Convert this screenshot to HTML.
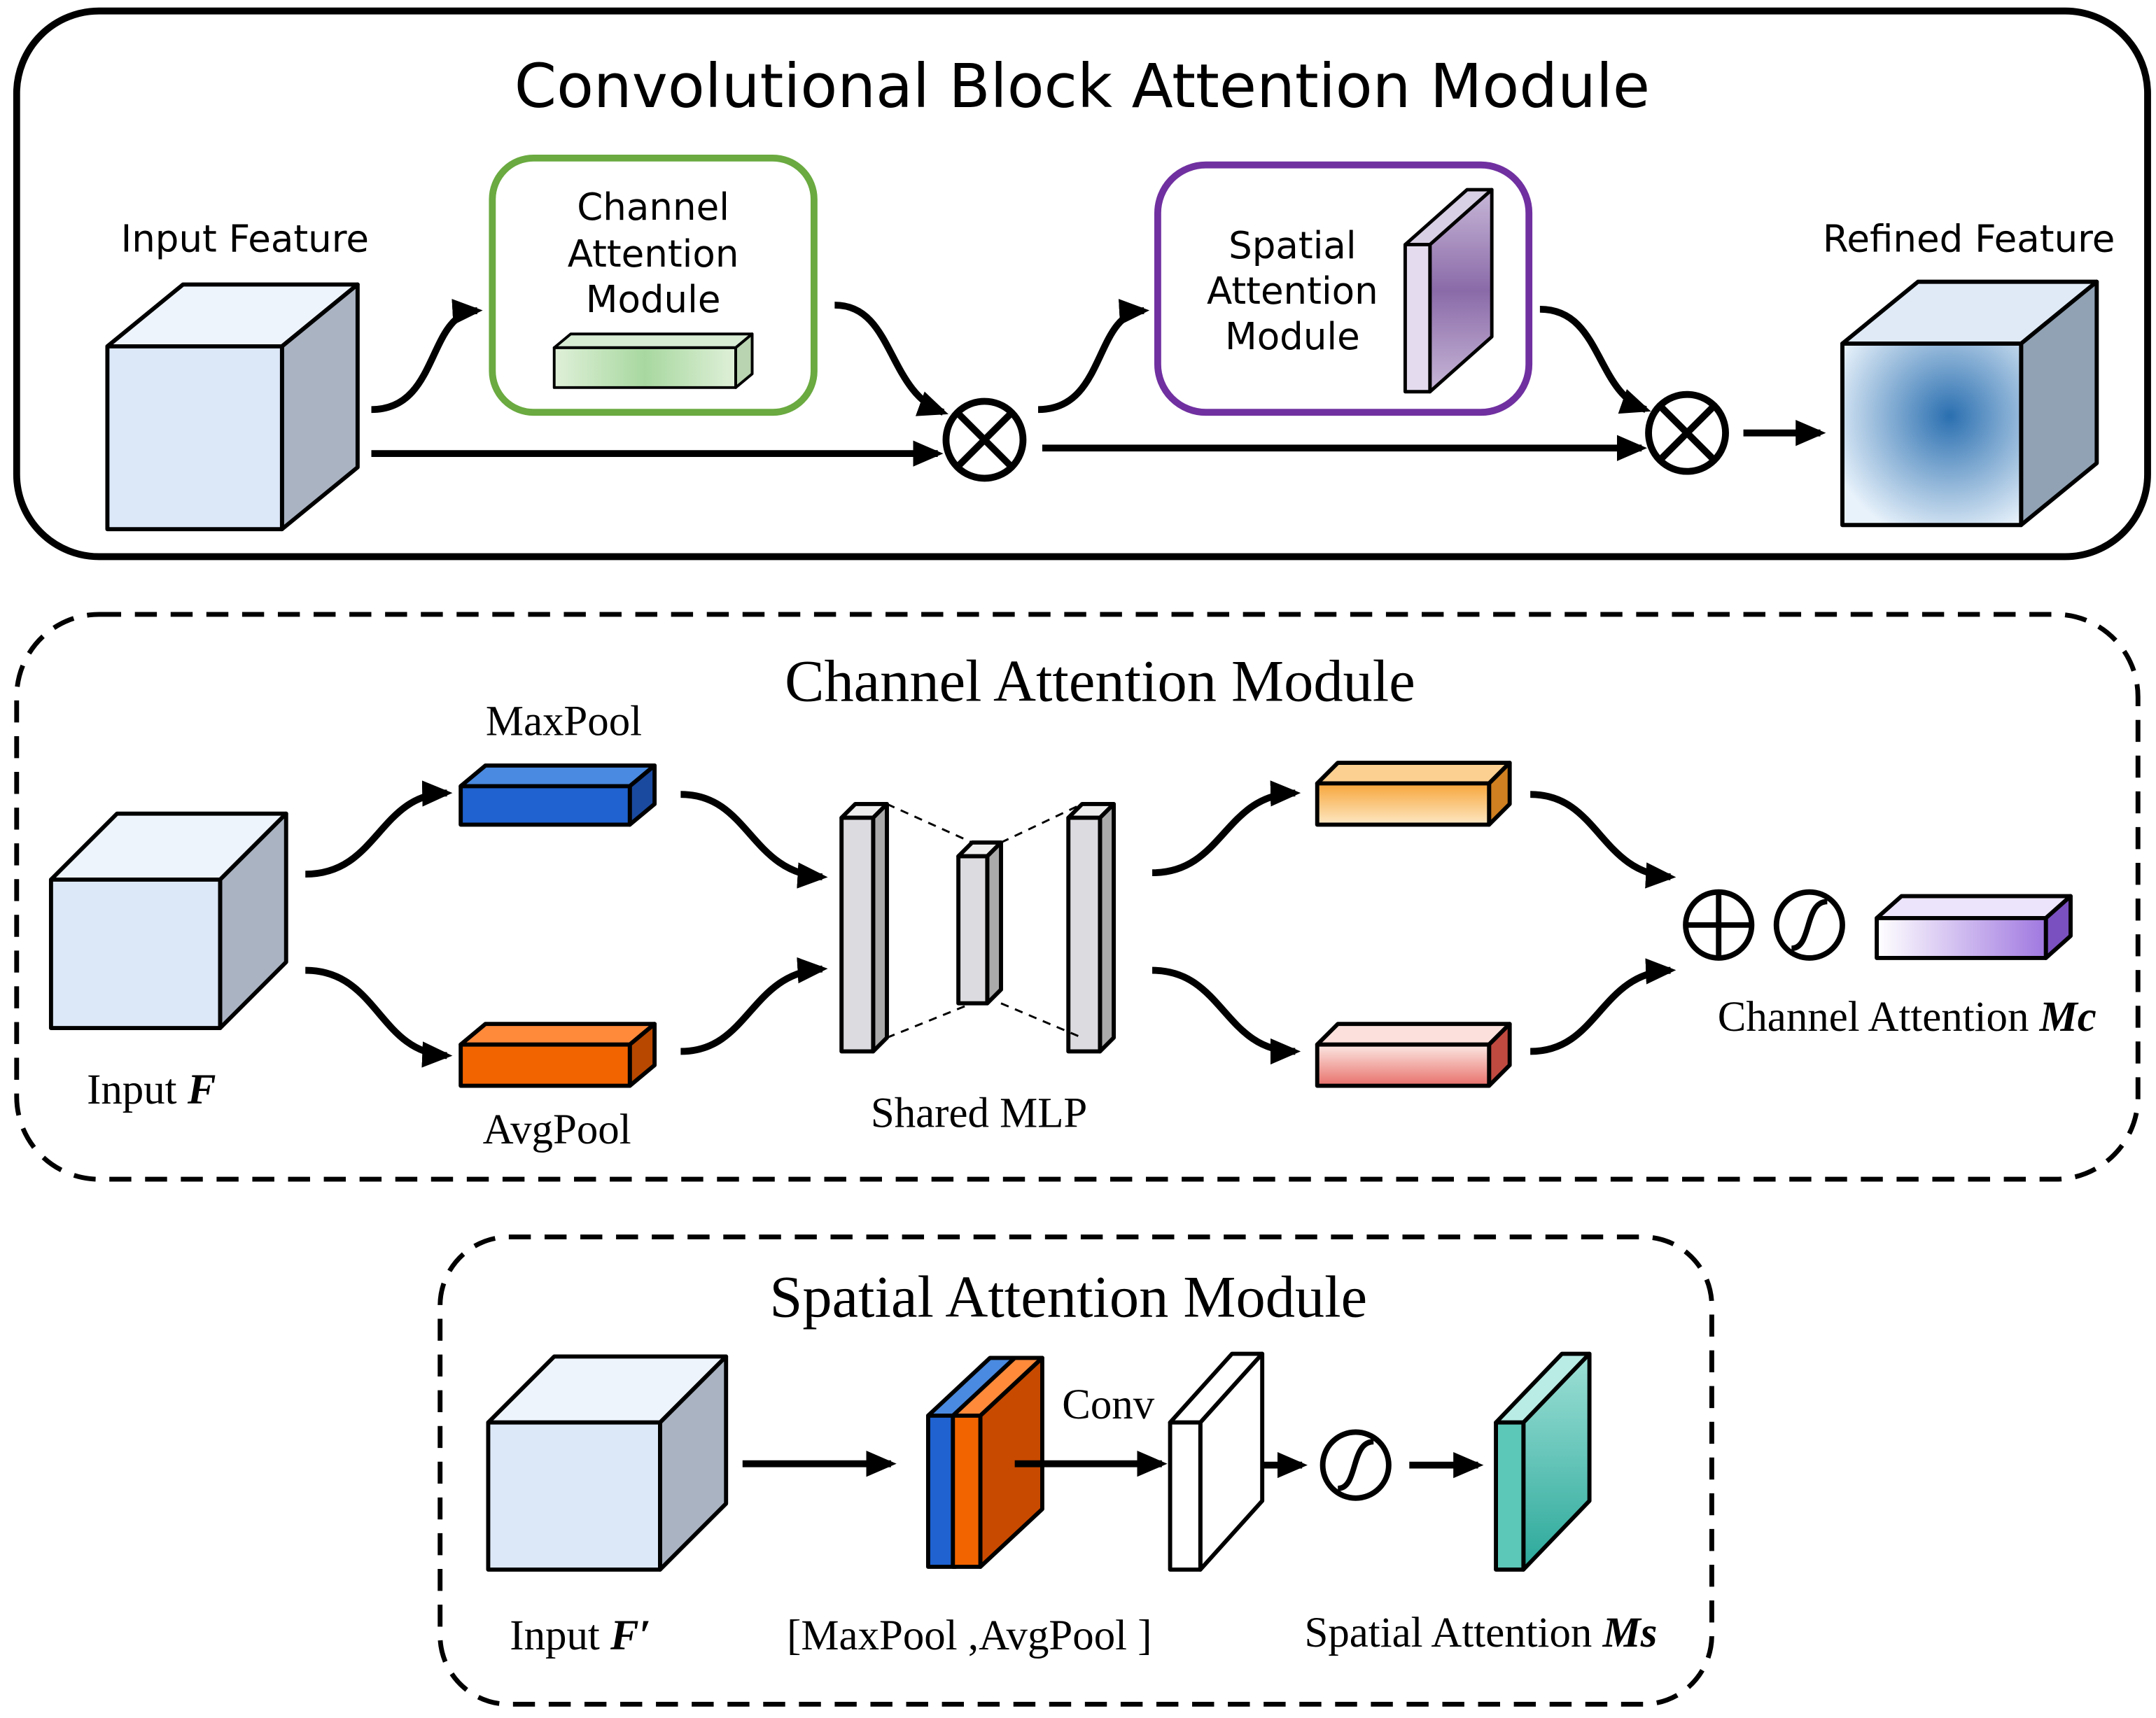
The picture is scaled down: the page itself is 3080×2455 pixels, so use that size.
<!DOCTYPE html>
<html><head><style>html,body{margin:0;padding:0;background:#fff}svg{display:block}</style></head>
<body>
<svg width="3080" height="2455" viewBox="0 0 1568 1250" xmlns="http://www.w3.org/2000/svg">
<defs>
<marker id="ah" markerWidth="4.4" markerHeight="4" refX="3.6" refY="2" orient="auto" markerUnits="strokeWidth"><path d="M0,0.1 L4.4,2 L0,3.9 Z" fill="#000"/></marker>
<radialGradient id="rb" cx="0.6" cy="0.4" r="0.7"><stop offset="0" stop-color="#2a6fb0"/><stop offset="1" stop-color="#e8f2fb"/></radialGradient>
<linearGradient id="gg" x1="0" x2="1"><stop offset="0" stop-color="#dff0d8"/><stop offset="0.5" stop-color="#a8d8a0"/><stop offset="1" stop-color="#dff0d8"/></linearGradient>
<linearGradient id="pp" x1="0" y1="0" x2="0" y2="1"><stop offset="0" stop-color="#c8b8d8"/><stop offset="0.5" stop-color="#8a6aa8"/><stop offset="1" stop-color="#c8b8d8"/></linearGradient>
<linearGradient id="yo" x1="0" y1="0" x2="0" y2="1"><stop offset="0" stop-color="#f7a53a"/><stop offset="1" stop-color="#fde8c4"/></linearGradient>
<linearGradient id="rp" x1="0" y1="0" x2="0" y2="1"><stop offset="0" stop-color="#fce8e4"/><stop offset="1" stop-color="#e8706a"/></linearGradient>
<linearGradient id="pu" x1="0" x2="1"><stop offset="0" stop-color="#ffffff"/><stop offset="1" stop-color="#a078e0"/></linearGradient>
<linearGradient id="tl" x1="0" y1="0" x2="0" y2="1"><stop offset="0" stop-color="#9ee0d6"/><stop offset="1" stop-color="#2aa89a"/></linearGradient>
</defs>
<g fill="none" stroke="#000">
<rect x="12" y="8" width="1550" height="397" rx="60" stroke-width="5"/>
<rect x="12" y="447" width="1543" height="411" rx="60" stroke-width="3.5" stroke-dasharray="16,10"/>
<rect x="320" y="900" width="925" height="340" rx="50" stroke-width="3.5" stroke-dasharray="16,10"/>
</g>
<g font-family="DejaVu Sans, Liberation Sans, sans-serif" text-anchor="middle" fill="#000">
<text x="787" y="78" font-size="44">Convolutional Block Attention Module</text>
<text x="178" y="183" font-size="27">Input Feature</text>
<text x="1432" y="183" font-size="27">Refined Feature</text>
<text x="475" y="160" font-size="27">Channel</text><text x="475" y="194" font-size="27">Attention</text><text x="475" y="227" font-size="27">Module</text>
<text x="940" y="188" font-size="27">Spatial</text><text x="940" y="221" font-size="27">Attention</text><text x="940" y="254" font-size="27">Module</text>
</g>
<g stroke="#000" stroke-width="3" stroke-linejoin="round">
<polygon points="78,252 133,207 260,207 205,252" fill="#eef4fc"/><polygon points="205,252 260,207 260,340 205,385" fill="#a9b3c2"/><rect x="78" y="252" width="127" height="133" fill="#dce8f8"/>
<polygon points="1340,250 1395,205 1525,205 1470,250" fill="#dfeaf6"/><polygon points="1470,250 1525,205 1525,337 1470,382" fill="#90a2b4"/><rect x="1340" y="250" width="130" height="132" fill="url(#rb)"/>
<rect x="358" y="115" width="234" height="185" rx="30" fill="none" stroke="#6aaa40" stroke-width="5"/>
<polygon points="403,253 415,243 547,243 535,253" fill="#d8ecd4" stroke-width="2"/><polygon points="535,253 547,243 547,272 535,282" fill="#b8d4b0" stroke-width="2"/><rect x="403" y="253" width="132" height="29" fill="url(#gg)" stroke-width="2"/>
<rect x="842" y="120" width="270" height="180" rx="35" fill="none" stroke="#7030a0" stroke-width="5"/>
<polygon points="1022,178 1067,138 1085,138 1040,178" fill="#d8d0e4" stroke-width="2.5"/><polygon points="1040,178 1085,138 1085,245 1040,285" fill="url(#pp)" stroke-width="2.5"/><rect x="1022" y="178" width="18" height="107" fill="#e4dcee" stroke-width="2.5"/>
</g>
<g fill="none" stroke="#000" stroke-width="5" marker-end="url(#ah)">
<path d="M270,298 C320,298 310,228 347,226"/>
<path d="M270,330 L682,330"/>
<path d="M607,222 C650,222 645,285 686,300"/>
<path d="M755,298 C805,298 795,228 832,226"/>
<path d="M758,326 L1194,326"/>
<path d="M1120,225 C1165,225 1160,285 1197,298"/>
<path d="M1268,315 L1324,315"/>
</g>
<g fill="#fff" stroke="#000" stroke-width="5">
<circle cx="716" cy="320" r="28"/><path d="M697,301 L735,339 M735,301 L697,339"/>
<circle cx="1227" cy="315" r="28"/><path d="M1208,296 L1246,334 M1246,296 L1208,334"/>
</g>
<g font-family="Liberation Serif, serif" text-anchor="middle" fill="#000">
<text x="800" y="510" font-size="43">Channel Attention Module</text>
<text x="410" y="535" font-size="31">MaxPool</text>
<text x="405" y="832" font-size="31">AvgPool</text>
<text x="712" y="820" font-size="31">Shared MLP</text>
<text x="110" y="803" font-size="31">Input <tspan font-weight="bold" font-style="italic">F</tspan></text>
<text x="1387" y="750" font-size="31">Channel Attention <tspan font-weight="bold" font-style="italic">Mc</tspan></text>
<text x="777" y="958" font-size="43">Spatial Attention Module</text>
<text x="806" y="1032" font-size="31">Conv</text>
<text x="422" y="1200" font-size="31">Input <tspan font-weight="bold" font-style="italic">F′</tspan></text>
<text x="705" y="1200" font-size="31">[MaxPool  ,AvgPool ]</text>
<text x="1077" y="1198" font-size="31">Spatial Attention <tspan font-weight="bold" font-style="italic">Ms</tspan></text>
</g>
<g stroke="#000" stroke-width="3" stroke-linejoin="round">
<polygon points="37,640 85,592 208,592 160,640" fill="#eef4fc"/><polygon points="160,640 208,592 208,700 160,748" fill="#a9b3c2"/><rect x="37" y="640" width="123" height="108" fill="#dce8f8"/>
<polygon points="335,572 353,557 476,557 458,572" fill="#4a8ae0"/><polygon points="458,572 476,557 476,585 458,600" fill="#1a4aa0"/><rect x="335" y="572" width="123" height="28" fill="#1f62d0"/>
<polygon points="335,760 353,745 476,745 458,760" fill="#ff8a3a"/><polygon points="458,760 476,745 476,775 458,790" fill="#b84800"/><rect x="335" y="760" width="123" height="30" fill="#f26400"/>
<polygon points="612,595 622,585 645,585 635,595" fill="#eee"/><polygon points="635,595 645,585 645,755 635,765" fill="#aaa"/><rect x="612" y="595" width="23" height="170" fill="#dcdce0"/>
<polygon points="697,623 707,613 728,613 718,623" fill="#eee"/><polygon points="718,623 728,613 728,720 718,730" fill="#aaa"/><rect x="697" y="623" width="21" height="107" fill="#dcdce0"/>
<polygon points="777,595 787,585 810,585 800,595" fill="#eee"/><polygon points="800,595 810,585 810,755 800,765" fill="#aaa"/><rect x="777" y="595" width="23" height="170" fill="#dcdce0"/>
<polygon points="958,570 973,555 1098,555 1083,570" fill="#fbd090"/><polygon points="1083,570 1098,555 1098,585 1083,600" fill="#d08020"/><rect x="958" y="570" width="125" height="30" fill="url(#yo)"/>
<polygon points="958,760 973,745 1098,745 1083,760" fill="#fbe0dc"/><polygon points="1083,760 1098,745 1098,775 1083,790" fill="#c04a40"/><rect x="958" y="760" width="125" height="30" fill="url(#rp)"/>
<polygon points="1365,668 1383,652 1506,652 1488,668" fill="#ece4fa"/><polygon points="1488,668 1506,652 1506,681 1488,697" fill="#7a50c0"/><rect x="1365" y="668" width="123" height="29" fill="url(#pu)"/>
</g>
<g stroke="#000" stroke-width="1.5" stroke-dasharray="6,5">
<path d="M645,585 L707,613 M645,755 L707,730 M728,613 L787,585 M728,730 L787,755"/>
</g>
<g fill="none" stroke="#000" stroke-width="5" marker-end="url(#ah)">
<path d="M222,636 C275,636 275,578 325,577"/>
<path d="M222,706 C275,706 275,766 325,768"/>
<path d="M495,578 C545,578 545,635 598,638"/>
<path d="M495,765 C545,765 545,708 598,705"/>
<path d="M838,635 C890,635 890,578 942,577"/>
<path d="M838,706 C890,706 890,765 942,765"/>
<path d="M1113,578 C1163,578 1163,635 1215,638"/>
<path d="M1113,765 C1163,765 1163,708 1215,706"/>
<path d="M540,1065 L648,1065"/>
<path d="M738,1065 L845,1065"/>
<path d="M897,1066 L947,1066"/>
<path d="M1025,1066 L1075,1066"/>
</g>
<g fill="none" stroke="#000" stroke-width="4">
<circle cx="1250" cy="673" r="24"/><path d="M1226,673 H1274 M1250,649 V697"/>
<circle cx="1316" cy="673" r="24"/><path d="M1303,690 C1318,690 1312,656 1329,656"/>
<circle cx="986" cy="1066" r="24"/><path d="M973,1083 C988,1083 982,1049 999,1049"/>
</g>
<g stroke="#000" stroke-width="3" stroke-linejoin="round">
<polygon points="355,1035 403,987 528,987 480,1035" fill="#eef4fc"/><polygon points="480,1035 528,987 528,1094 480,1142" fill="#a9b3c2"/><rect x="355" y="1035" width="125" height="107" fill="#dce8f8"/>
<polygon points="675,1030 720,988 740,988 695,1030" fill="#4a8ae0"/>
<rect x="675" y="1030" width="20" height="110" fill="#1f62d0"/>
<polygon points="693,1030 738,988 758,988 713,1030" fill="#ff8a3a"/>
<polygon points="713,1030 758,988 758,1098 713,1140" fill="#c84a00"/>
<rect x="693" y="1030" width="20" height="110" fill="#f26400"/>
<polygon points="851,1035 896,985 918,985 873,1035" fill="#fff"/><polygon points="873,1035 918,985 918,1092 873,1142" fill="#fff"/><rect x="851" y="1035" width="22" height="107" fill="#fff"/>
<polygon points="1088,1035 1136,985 1156,985 1108,1035" fill="#b8ece4"/><polygon points="1108,1035 1156,985 1156,1092 1108,1142" fill="url(#tl)"/><rect x="1088" y="1035" width="20" height="107" fill="#5cc8b8"/>
</g>
<line x1="738" y1="1065" x2="758" y2="1065" stroke="#000" stroke-width="5"/>
</svg>
</body></html>
